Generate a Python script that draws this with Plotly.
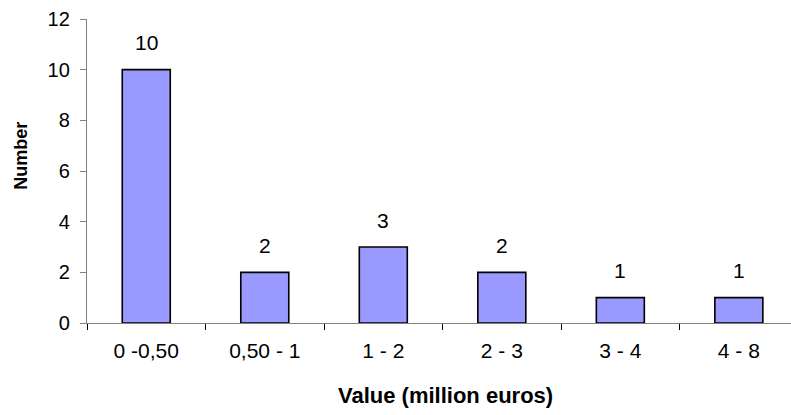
import plotly.graph_objects as go

# Value bands (million euros) and number of items in each band
categories = ["0 -0,50", "0,50 - 1", "1 - 2", "2 - 3", "3 - 4", "4 - 8"]
counts = [10, 2, 3, 2, 1, 1]

y_ticks = [0, 2, 4, 6, 8, 10, 12]

FONT = "Liberation Sans, Arial, sans-serif"
AXIS_GREY = "#808080"

fig = go.Figure()
fig.add_trace(
    go.Bar(
        x=categories,
        y=counts,
        marker=dict(color="#9999FF", line=dict(color="#000000", width=1.6)),
        hoverinfo="x+y",
    )
)

# value labels above each bar
for cat, val in zip(categories, counts):
    fig.add_annotation(
        x=cat, y=val, text=str(val), showarrow=False,
        xref="x", yref="y", yanchor="middle", yshift=27,
        font=dict(family=FONT, size=21, color="#000000"),
    )

# axis titles
fig.add_annotation(
    text="<b>Value (million euros)</b>", showarrow=False,
    xref="paper", yref="paper", x=0.509, y=0, yshift=-72,
    xanchor="center", yanchor="middle",
    font=dict(family=FONT, size=22, color="#000000"),
)
fig.add_annotation(
    text="<b>Number</b>", showarrow=False, textangle=-90,
    xref="paper", yref="paper", x=0, xshift=-66, y=0.55,
    xanchor="center", yanchor="middle",
    font=dict(family=FONT, size=18, color="#000000"),
)

fig.update_layout(
    width=791, height=415,
    margin=dict(l=87, r=0, t=19, b=92),
    plot_bgcolor="#FFFFFF", paper_bgcolor="#FFFFFF",
    bargap=0.595,
    showlegend=False,
    font=dict(family=FONT, size=21, color="#000000"),
)
fig.update_xaxes(
    type="category",
    range=[-0.5, 5.44],
    showline=True, linecolor=AXIS_GREY, linewidth=1.3,
    ticks="outside", tickson="boundaries", ticklen=6,
    tickcolor="#000000", tickwidth=1,
    ticklabelstandoff=9,
    showgrid=False, zeroline=False,
    tickfont=dict(family=FONT, size=21, color="#000000"),
)
fig.update_yaxes(
    range=[0, 12],
    tickvals=y_ticks,
    showline=True, linecolor=AXIS_GREY, linewidth=1.3,
    ticks="outside", ticklen=6, tickcolor=AXIS_GREY, tickwidth=1.3,
    ticklabelstandoff=6,
    showgrid=False, zeroline=False,
    tickfont=dict(family=FONT, size=20, color="#000000"),
)

fig.write_html("out.html")
